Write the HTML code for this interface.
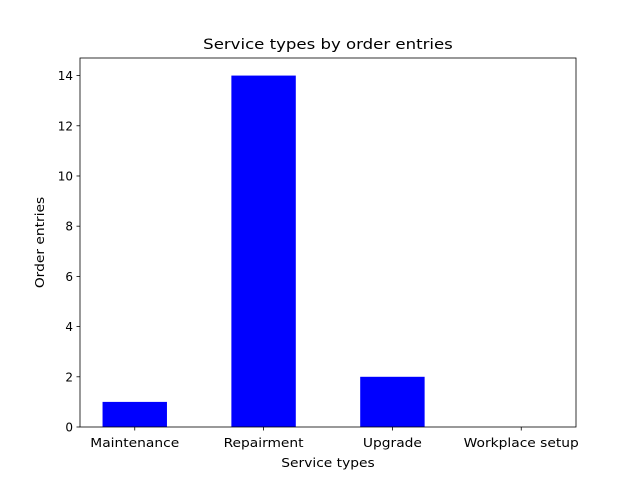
<!DOCTYPE html>
<html><head><meta charset="utf-8"><style>
body{margin:0;background:#fff;font-family:"DejaVu Sans","Liberation Sans",sans-serif;}
svg text{font-family:"DejaVu Sans","Liberation Sans",sans-serif;fill:#000;}
</style></head><body>
<svg id="c" width="640" height="480" xmlns="http://www.w3.org/2000/svg">
<rect width="640" height="480" fill="#fff"/>
<text class="w" x="328" y="49" font-size="14.4" text-anchor="middle">Service types by order entries</text>
<text class="w" x="328" y="467" font-size="12" text-anchor="middle">Service types</text>
<text class="w" transform="translate(44,242.5) rotate(-90)" font-size="12" text-anchor="middle">Order entries</text>
<g id="bars"></g><g id="ticks"></g>
<rect x="80" y="58" width="496" height="369" fill="none" stroke="#000" stroke-width="0.8"/>
</svg>
<script>
const categories=["Maintenance","Repairment","Upgrade","Workplace setup"];
const values=[1,14,2,0];
const yTicks=[0,2,4,6,8,10,12,14];
const L=80,R=576,T=58,B=427,ymax=14.7,xmin=-0.425,xmax=3.425;
const ns="http://www.w3.org/2000/svg";
const xs=v=>L+(v-xmin)/(xmax-xmin)*(R-L);
const ys=v=>B-v/ymax*(B-T);
const bars=document.getElementById('bars'),ticks=document.getElementById('ticks');
function mk(t,a,p){const e=document.createElementNS(ns,t);for(const k in a)e.setAttribute(k,a[k]);p.appendChild(e);return e;}
values.forEach((v,i)=>{
 const r=mk('rect',{x:xs(i-0.25),y:ys(v),width:xs(i+0.25)-xs(i-0.25),height:ys(0)-ys(v),fill:'#0000ff'},bars);
 
 
 const l=mk('line',{x1:xs(i),x2:xs(i),y1:B,y2:B+3.5,stroke:'#000','stroke-width':0.8},ticks);
 
 
 const t=mk('text',{x:xs(i),y:B+20,'font-size':12,'text-anchor':'middle','class':'w'},ticks);
 t.textContent=categories[i];
 
 
});
yTicks.forEach(v=>{
 const l=mk('line',{x1:L-3.5,x2:L,y1:ys(v),y2:ys(v),stroke:'#000','stroke-width':0.8},ticks);
 
 
 const t=mk('text',{x:L-7,y:ys(v)+4.5,'font-size':12,'text-anchor':'end'},ticks);
 t.textContent=v;
 
 
});
document.querySelectorAll('text.w').forEach(t=>{
 const w=t.getComputedTextLength();
 t.setAttribute('textLength',(w*1.15).toFixed(1));
 t.setAttribute('lengthAdjust','spacingAndGlyphs');
});
</script>
</body></html>
